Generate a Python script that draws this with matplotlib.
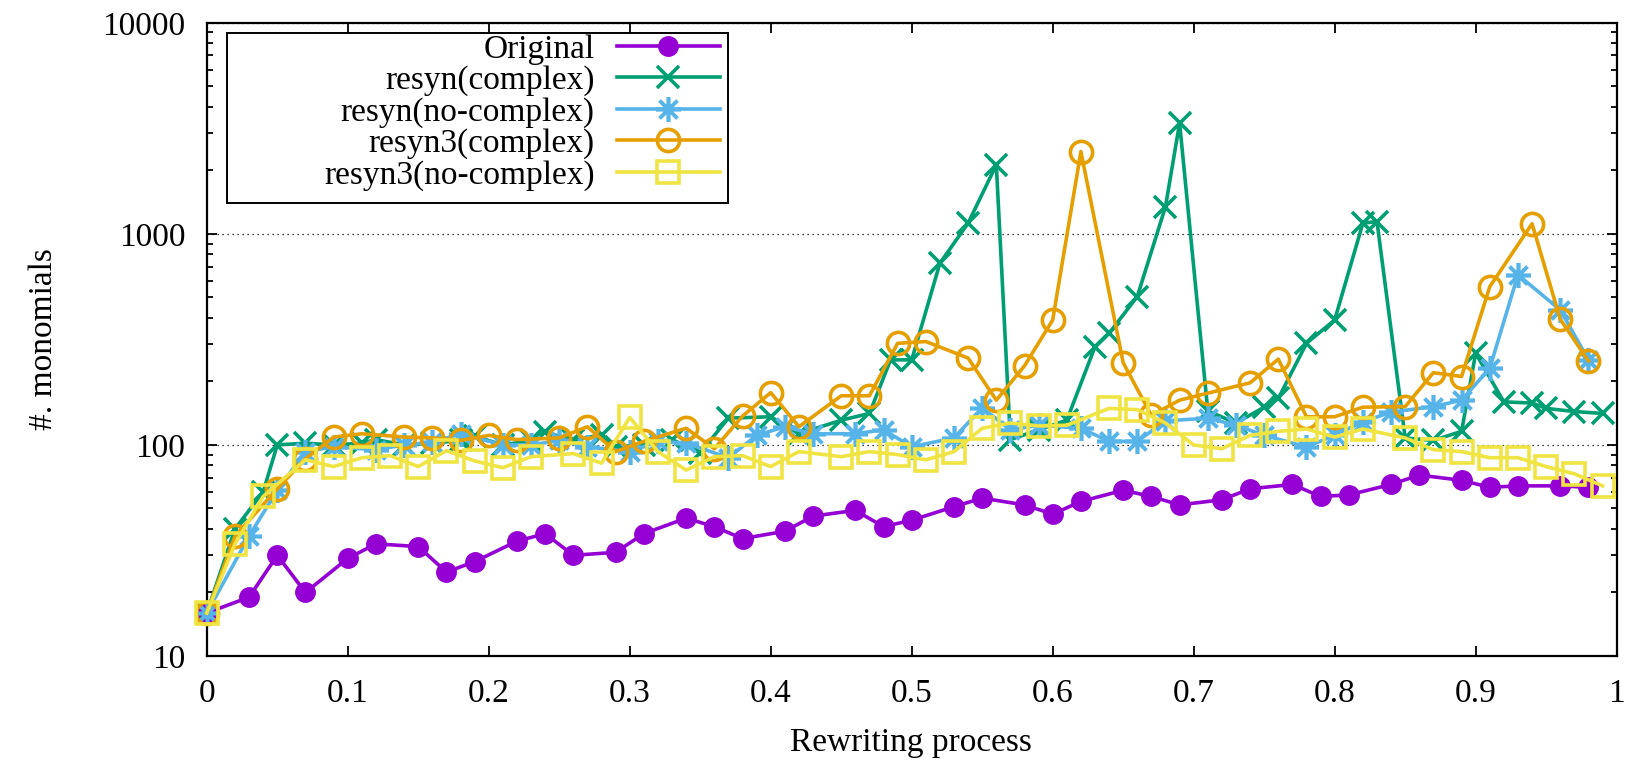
import matplotlib
matplotlib.use("Agg")
import matplotlib.pyplot as plt
from matplotlib.patches import Rectangle
from matplotlib.ticker import FixedLocator, FixedFormatter, LogLocator, NullFormatter

plt.rcParams['font.family'] = ['Liberation Serif', 'DejaVu Serif']

# ---- data ----
orig_x = [0, .03, .05, .07, .10, .12, .15, .17, .19, .22, .24, .26, .29, .31, .34, .36, .38, .41, .43, .46,
          .48, .50, .53, .55, .58, .60, .62, .65, .67, .69, .72, .74, .77, .79, .81, .84, .86, .89, .91, .93,
          .96, .98]
orig_y = [16, 19, 30, 20, 29, 34, 33, 25, 28, 35, 38, 30, 31, 38, 45, 41, 36, 39, 46, 49,
          41, 44, 51, 56, 52, 47, 54, 61, 57, 52, 55, 62, 65, 57, 58, 65, 72, 68, 63, 64,
          64, 63]

rc_x = [0, .02, .04, .05, .07, .09, .11, .12, .14, .16, .18, .19, .21, .23, .24, .26, .28, .29, .31, .33,
        .35, .37, .40, .42, .45, .47, .485, .50, .52, .54, .56, .57, .59, .61, .63, .64, .66, .68, .69, .71,
        .73, .75, .76, .78, .80, .82, .83, .85, .87, .89, .90, .92, .94, .95, .97, .99]
rc_y = [16, 40, 60, 100, 102, 100, 102, 106, 100, 102, 105, 110, 100, 105, 115, 105, 112, 98, 100, 106,
        92, 134, 136, 113, 131, 141, 253, 253, 726, 1124, 2124, 106, 118, 131, 292, 338, 505, 1346, 3350, 145,
        127, 151, 166, 303, 391, 1124, 1144, 108, 105, 116, 272, 160, 158, 149, 144, 141]

rn_x = [0, .03, .05, .07, .09, .12, .14, .16, .18, .21, .23, .25, .27, .30, .32, .34, .37, .39, .41, .43,
        .46, .48, .50, .53, .55, .57, .59, .62, .64, .66, .68, .71, .73, .75, .78, .80, .82, .84, .87, .89,
        .91, .93, .96, .98]
rn_y = [16, 37, 61, 93, 98, 95, 100, 103, 113, 100, 100, 105, 98, 93, 104, 102, 87, 111, 122, 113,
        113, 118, 98, 108, 150, 118, 124, 120, 104, 104, 130, 134, 124, 111, 98, 111, 129, 143, 152, 163,
        231, 640, 436, 253]

r3c_x = [0, .02, .05, .07, .09, .11, .14, .16, .18, .20, .22, .25, .27, .29, .31, .34, .36, .38, .40, .42,
         .45, .47, .49, .51, .54, .56, .58, .60, .62, .65, .67, .69, .71, .74, .76, .78, .80, .82, .85, .87,
         .89, .91, .94, .96, .98]
r3c_y = [16, 37, 62, 86, 109, 113, 109, 108, 105, 111, 106, 108, 122, 93, 104, 120, 96, 137, 177, 122,
         171, 171, 303, 309, 258, 163, 237, 391, 2455, 245, 138, 163, 176, 197, 255, 136, 136, 151, 152, 220,
         211, 562, 1117, 394, 250]

r3n_x = [0, .02, .04, .07, .09, .11, .13, .15, .17, .19, .21, .23, .26, .28, .30, .32, .34, .36, .38, .40,
         .42, .45, .47, .49, .51, .53, .55, .57, .59, .61, .64, .66, .68, .70, .72, .74, .76, .78, .80, .82,
         .85, .87, .89, .91, .93, .95, .97, .99]
r3n_y = [16, 34, 57, 85, 79, 87, 89, 79, 94, 84, 78, 88, 91, 82, 135, 93, 76, 88, 89, 79,
         93, 88, 93, 90, 85, 93, 120, 127, 123, 124, 149, 147, 127, 100, 96, 111, 116, 119, 109, 119,
         108, 95, 93, 87, 87, 79, 73, 64]

labels = ["Original", "resyn(complex)", "resyn(no-complex)", "resyn3(complex)", "resyn3(no-complex)"]
x_ticks = [0, 0.1, 0.2, 0.3, 0.4, 0.5, 0.6, 0.7, 0.8, 0.9, 1.0]
x_tick_labels = ["0", "0.1", "0.2", "0.3", "0.4", "0.5", "0.6", "0.7", "0.8", "0.9", "1"]
y_ticks = [10, 100, 1000, 10000]
y_tick_labels = ["10", "100", "1000", "10000"]

FS = 24

# ---- plot ----
fig = plt.figure(figsize=(16.32, 7.6), dpi=100)
ax = fig.add_axes([0.1267, 0.1368, 0.9906 - 0.1267, 0.970 - 0.1368])

lw = 2.6
mew = 2.6
styles = [
    dict(color="#9400D3", marker="o", ms=14, mfc="#9400D3", mew=1),
    dict(color="#009E73", marker="x", ms=16, mew=mew),
    dict(color="#56B4E9", marker=(8, 2, 0), ms=18, mew=mew),
    dict(color="#E69F00", marker="o", ms=16, mfc="none", mew=mew),
    dict(color="#F0E442", marker="s", ms=15.5, mfc="none", mew=mew),
]
series = [(orig_x, orig_y), (rc_x, rc_y), (rn_x, rn_y), (r3c_x, r3c_y), (r3n_x, r3n_y)]
for i, ((xs, ys), st, lab) in enumerate(zip(series, styles, labels)):
    ax.plot(xs, ys, lw=lw, label=lab, zorder=3 + i, clip_on=False, **st)

ax.set_yscale("log")
ax.set_xlim(0, 1)
ax.set_ylim(10, 10000)
ax.xaxis.set_major_locator(FixedLocator(x_ticks))
ax.xaxis.set_major_formatter(FixedFormatter(x_tick_labels))
ax.yaxis.set_major_locator(FixedLocator(y_ticks))
ax.yaxis.set_major_formatter(FixedFormatter(y_tick_labels))
ax.yaxis.set_minor_locator(LogLocator(base=10, subs=range(2, 10)))
ax.yaxis.set_minor_formatter(NullFormatter())

ax.tick_params(which="both", direction="in", top=True, right=True, labelsize=FS, width=1.3)
ax.tick_params(which="major", length=7.5)
ax.tick_params(which="minor", length=4)
ax.tick_params(axis="x", pad=16)
ax.tick_params(axis="y", pad=15.5)
for sp in ax.spines.values():
    sp.set_linewidth(1.6)

ax.yaxis.grid(True, which="major", linestyle=(0, (1, 3)), color="black", lw=0.9)
ax.set_axisbelow(True)

ax.set_xlabel("Rewriting process", fontsize=FS, va="center")
ax.set_ylabel("#. monomials", fontsize=FS)
ax.xaxis.set_label_coords(0.4995, -0.137)
ax.yaxis.set_label_coords(-0.1048, 0.5)

# legend frame (gnuplot style, wide box)
frame = Rectangle((0.0142, 0.7148), 0.3697 - 0.0142, 0.9842 - 0.7148, transform=ax.transAxes,
                  facecolor="white", edgecolor="black", lw=1.4, zorder=19)
ax.add_patch(frame)
leg = ax.legend(loc="upper right", bbox_to_anchor=(0.364, 0.982), borderaxespad=0,
                markerfirst=False, fontsize=FS, handlelength=3.1, handletextpad=0.66,
                labelspacing=0.02, borderpad=0, frameon=False)
leg.set_zorder(20)

fig.savefig("out.png", dpi=100)
